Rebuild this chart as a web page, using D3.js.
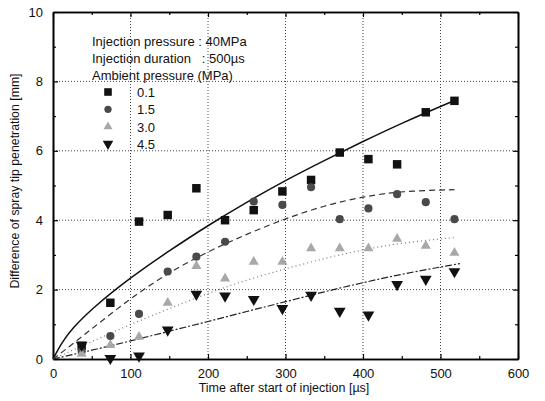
<!DOCTYPE html>
<html>
<head>
<meta charset="utf-8">
<script src="https://cdn.jsdelivr.net/npm/d3@7"></script>
<style>
    body { margin: 0; background: #fff; }
    svg text { font-family: "Liberation Sans", Arial, sans-serif; fill: #111; }
</style>
</head>
<body>
<div id="chart"></div>
<script>
// measured points, time after start of injection [us]
const times = [37, 74, 111, 148, 185, 222, 259, 296, 333, 370, 407, 444, 481, 518];
const p01 = [0.38, 1.62, 3.96, 4.15, 4.92, 4.0, 4.29, 4.83, 5.16, 5.95, 5.76, 5.61, 7.11, 7.44];
const p15 = [0.22, 0.66, 1.30, 2.52, 2.95, 3.38, 4.54, 4.44, 4.95, 4.03, 4.34, 4.75, 4.52, 4.03];
const p30 = [0.15, 0.40, 0.64, 1.62, 2.68, 2.32, 2.80, 2.80, 3.19, 3.19, 3.19, 3.46, 3.26, 3.06];
const p45 = [0.40, 0.02, 0.09, 0.84, 1.87, 1.82, 1.72, 1.46, 1.84, 1.38, 1.27, 2.15, 2.30, 2.52];

// fitted curves
const fitT = [0, 12, 25, 50, 100, 150, 200, 250, 300, 350, 400, 450, 518];
const fit01 = [0, 0.5, 0.88, 1.45, 2.35, 3.12, 3.85, 4.52, 5.15, 5.72, 6.27, 6.8, 7.45];
const fit15 = [0, 0.2, 0.43, 0.87, 1.75, 2.5, 3.1, 3.6, 4.05, 4.42, 4.68, 4.84, 4.88];
const fit30 = [0, 0.12, 0.25, 0.5, 1.0, 1.45, 1.9, 2.28, 2.6, 2.9, 3.15, 3.35, 3.5];
const fit45T = [0, 50, 100, 150, 200, 250, 300, 350, 400, 450, 525];
const fit45 = [0, 0.25, 0.52, 0.8, 1.08, 1.37, 1.65, 1.94, 2.2, 2.45, 2.75];

const xTicks = [0, 100, 200, 300, 400, 500, 600];
const yTicks = [0, 2, 4, 6, 8, 10];
const legendNames = ['0.1', '1.5', '3.0', '4.5'];
const legendLines = ['Injection pressure : 40MPa', 'Injection duration   : 500\u00b5s', 'Ambient pressure (MPa)'];

const width = 545, height = 401;
const plotLeft = 53, plotRight = 518, plotTop = 12, plotBottom = 359;

const x = d3.scaleLinear().domain([0, 600]).range([plotLeft, plotRight]);
const y = d3.scaleLinear().domain([0, 10]).range([plotBottom, plotTop]);

const svg = d3.select('#chart').append('svg')
    .attr('width', width)
    .attr('height', height);

// grid
svg.append('g')
    .selectAll('line')
    .data(xTicks.slice(1, -1))
    .enter()
.append('line')
    .attr('x1', (d) => x(d)).attr('x2', (d) => x(d))
    .attr('y1', plotTop).attr('y2', plotBottom)
    .style('stroke', '#444').style('stroke-width', 1).style('stroke-dasharray', '1,2');
svg.append('g')
    .selectAll('line')
    .data(yTicks.slice(1, -1))
    .enter()
.append('line')
    .attr('x1', plotLeft).attr('x2', plotRight)
    .attr('y1', (d) => y(d)).attr('y2', (d) => y(d))
    .style('stroke', '#444').style('stroke-width', 1).style('stroke-dasharray', '1,2');

// axes, ticks inward on all four sides
const minorX = d3.range(50, 600, 100);
const minorY = d3.range(1, 10, 2);

const addAxis = function addAxis(axis, tx, ty, labels) {
    const g = svg.append('g')
        .attr('transform', 'translate(' + tx + ',' + ty + ')')
        .call(axis);
    g.select('.domain').style('stroke', '#000').style('stroke-width', 1.6);
    g.selectAll('.tick line').style('stroke', '#000').style('stroke-width', 1.2);
    g.selectAll('.tick text').style('font-size', '13px');
    if (!labels) g.selectAll('.tick text').remove();
    return g;
};

addAxis(d3.axisBottom(x).tickValues(xTicks).tickSizeInner(-5).tickSizeOuter(0).tickPadding(10), 0, plotBottom, true);
addAxis(d3.axisBottom(x).tickValues(minorX).tickSizeInner(-3).tickSizeOuter(0), 0, plotBottom, false);
addAxis(d3.axisTop(x).tickValues(xTicks).tickSizeInner(-5).tickSizeOuter(0), 0, plotTop, false);
addAxis(d3.axisTop(x).tickValues(minorX).tickSizeInner(-3).tickSizeOuter(0), 0, plotTop, false);
addAxis(d3.axisLeft(y).tickValues(yTicks).tickSizeInner(-5).tickSizeOuter(0).tickPadding(10), plotLeft, 0, true);
addAxis(d3.axisLeft(y).tickValues(minorY).tickSizeInner(-3).tickSizeOuter(0), plotLeft, 0, false);
addAxis(d3.axisRight(y).tickValues(yTicks).tickSizeInner(-5).tickSizeOuter(0), plotRight, 0, false);
addAxis(d3.axisRight(y).tickValues(minorY).tickSizeInner(-3).tickSizeOuter(0), plotRight, 0, false);

// axis titles
svg.append('text')
    .attr('x', 284).attr('y', 392)
    .style('text-anchor', 'middle')
    .style('font-size', '12.5px')
    .text('Time after start of injection [\u00b5s]');
svg.append('text')
    .attr('transform', 'translate(19,' + 181 + ') rotate(-90)')
    .style('text-anchor', 'middle')
    .style('font-size', '12.3px')
    .text('Difference of spray tip penetration [mm]');

// fitted curves
const line = d3.line()
    .curve(d3.curveBasis)
    .x((d) => x(d[0]))
    .y((d) => y(d[1]));

const curves = [
    {t: fitT, v: fit01, stroke: '#111', dash: null, w: 1.5},
    {t: fitT, v: fit15, stroke: '#333', dash: '6,4', w: 1.2},
    {t: fitT, v: fit30, stroke: '#777', dash: '1,3', w: 1.2},
    {t: fit45T, v: fit45, stroke: '#222', dash: '7,2,2,2', w: 1.2},
];
svg.append('g')
    .selectAll('path')
    .data(curves)
    .enter()
.append('path')
    .attr('d', (d) => line(d.t.map((t, i) => [t, d.v[i]])))
    .style('fill', 'none')
    .style('stroke', (d) => d.stroke)
    .style('stroke-width', (d) => d.w)
    .style('stroke-dasharray', (d) => d.dash);

// markers
const symbols = [
    {type: d3.symbolSquare, size: 72, fill: '#111', rot: 0},
    {type: d3.symbolCircle, size: 52, fill: '#4a4a4a', rot: 0},
    {type: d3.symbolTriangle, size: 44, fill: '#a8a8a8', rot: 0},
    {type: d3.symbolTriangle, size: 60, fill: '#111', rot: 180},
];
const seriesVals = [p01, p15, p30, p45];

seriesVals.forEach((vals, k) => {
    const s = symbols[k];
    svg.append('g')
        .selectAll('path')
        .data(times.map((t, i) => [t, vals[i]]))
        .enter()
    .append('path')
        .attr('transform', (d) => 'translate(' + x(d[0]) + ',' + y(d[1]) + ') rotate(' + s.rot + ')')
        .attr('d', d3.symbol().type(s.type).size(s.size))
        .style('fill', s.fill);
});

// legend
const legend = svg.append('g').attr('transform', 'translate(92,0)');
legend.selectAll('text.head')
    .data(legendLines)
    .enter()
.append('text')
    .attr('class', 'head')
    .attr('x', 0)
    .attr('y', (d, i) => 46 + i * 17)
    .style('font-size', '13px')
    .style('white-space', 'pre')
    .text((d) => d);

legendNames.forEach((name, k) => {
    const s = symbols[k];
    const cy = 92 + k * 17.3;
    legend.append('path')
        .attr('transform', 'translate(16,' + cy + ') rotate(' + s.rot + ')')
        .attr('d', d3.symbol().type(s.type).size(s.size * 0.8))
        .style('fill', s.fill);
    legend.append('text')
        .attr('x', 45)
        .attr('y', cy + 5)
        .style('font-size', '13px')
        .text(name);
});
</script>
</body>
</html>
